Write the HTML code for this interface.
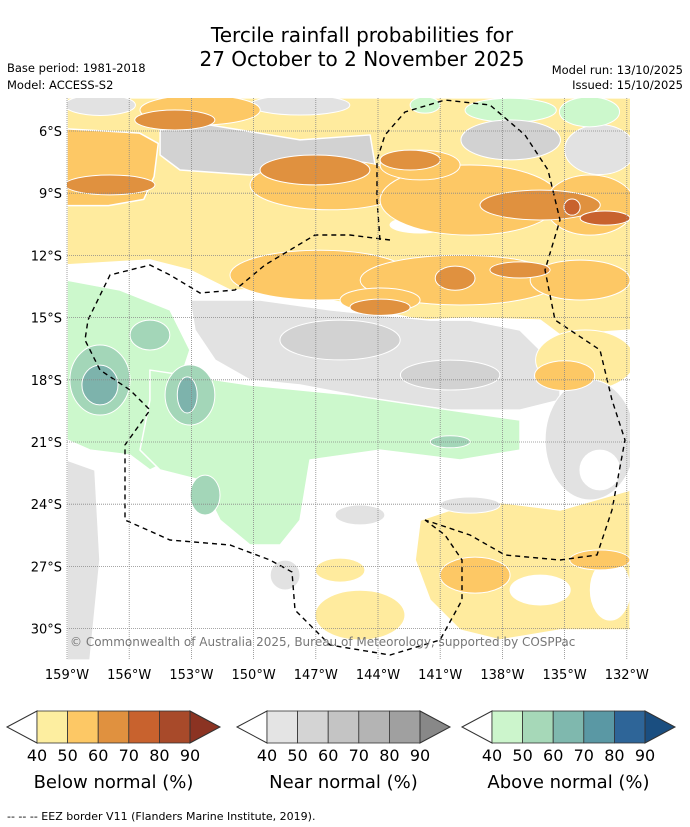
<!DOCTYPE html>
<html><head><meta charset="utf-8"><style>
body{margin:0;background:#fff;width:690px;height:827px;overflow:hidden;font-family:"DejaVu Sans","Liberation Sans",sans-serif}
svg{display:block}
</style></head><body>
<svg id="chart" width="690" height="827" xmlns="http://www.w3.org/2000/svg">
<text x="362" y="42" text-anchor="middle" font-size="20">Tercile rainfall probabilities for</text>
<text x="362" y="66" text-anchor="middle" font-size="20">27 October to 2 November 2025</text>
<text x="7" y="72" font-size="11.5">Base period: 1981-2018</text>
<text x="7" y="89" font-size="11.5">Model: ACCESS-S2</text>
<text x="683" y="74" font-size="11.5" text-anchor="end">Model run: 13/10/2025</text>
<text x="683" y="89" font-size="11.5" text-anchor="end">Issued: 15/10/2025</text>
<defs><clipPath id="mapclip"><rect x="67" y="98" width="563" height="562"/></clipPath></defs>
<g id="map" clip-path="url(#mapclip)"></g>
<g id="axes"></g>
<text x="70" y="646" font-size="12" fill="#777">© Commonwealth of Australia 2025, Bureau of Meteorology, supported by COSPPac</text>
<g id="bars"></g>
<text x="7" y="820" font-size="11">--  --  -- EEZ border V11 (Flanders Marine Institute, 2019).</text>
</svg>
<script>
const lonTicks=[159,156,153,150,147,144,141,138,135,132];
const latTicks=[6,9,12,15,18,21,24,27,30];
const cbTicks=[40,50,60,70,80,90];
const cbTitles=["Below normal (%)","Near normal (%)","Above normal (%)"];
const cbColors=[["#fdeea0","#fdc865","#e0913f","#c8622e","#a84a2a","#8b3322"],["#e4e4e4","#d4d4d4","#c4c4c4","#b4b4b4","#a0a0a0","#888888"],["#ccf5cc","#a6d8b8","#7fb8ae","#5a98a4","#2e6598","#1a4e80"]];
const catColor={w:"#ffffff",b1:"#ffeb9e",b2:"#fdc865",b3:"#e0913f",b4:"#c8622e",n1:"#e2e2e2",n2:"#d2d2d2",a1:"#ccf8cc",a2:"#a3d6b8",a3:"#7db3ac"};
const polys=[
["b1",[[159,4.4],[131.8,4.4],[131.8,15.6],[135.22,15.84],[136.18,15.12],[139.56,15.02],[141.97,15.12],[146.31,14.15],[149.69,13.67],[151.14,13.67],[153.07,12.71],[155.0,12.22],[159,12.46]]],
["b2",[[159,5.9],[155.5,6.1],[154.6,6.6],[154.8,8.2],[155.3,9.3],[157,9.6],[159,9.6]]],
["n2",[[154.51,5.95],[152.1,5.71],[147.76,6.43],[144.38,6.19],[144.14,7.64],[147.76,7.88],[150.17,8.12],[153.55,7.88],[154.51,7.16]]],
["n1",[[153.07,14.15],[149.69,14.15],[146.31,14.63],[141.49,15.12],[139.56,15.12],[137.15,15.6],[136.18,16.56],[135.22,18.01],[135.22,18.98],[137.15,19.46],[140.52,19.46],[143.9,18.98],[147.76,18.25],[150.17,18.01],[151.86,17.05],[152.83,15.6]]],
["a1",[[159,13.19],[156.44,13.67],[154.03,14.63],[153.07,16.56],[153.55,18.01],[154.51,19.94],[154.03,21.87],[155.0,22.35],[155.96,21.63],[157.89,21.39],[159,20.9]]],
["a1",[[155.0,17.53],[150.17,18.25],[145.35,18.73],[140.52,19.46],[137.15,19.94],[137.15,21.39],[140.04,21.87],[143.9,21.39],[147.28,21.87],[147.76,24.77],[148.72,25.97],[150.17,25.97],[151.62,24.77],[152.58,22.84],[154.51,22.35],[155.48,21.39],[155.0,18.98]]],
["b1",[[141.97,24.77],[139.08,23.8],[135.22,24.28],[131.84,23.32],[131.84,30.07],[135.22,30.07],[138.11,30.55],[140.04,30.07],[141.49,28.62],[142.21,26.69]]],
["n1",[[159,21.87],[157.65,22.35],[157.41,26.69],[157.89,31.52],[159,31.52]]]
];
const ells=[
["b1",134.0,17.05,2.4,1.45],["b2",135.0,17.8,1.45,0.72],
["n1",157.4,4.75,1.7,0.5],["n2",137.6,6.43,2.4,0.96],["n1",133.3,6.9,1.7,1.2],["a1",137.6,5.0,2.2,0.58],["a1",133.8,5.08,1.45,0.72],["a1",141.73,4.75,0.72,0.39],["n1",147.76,4.75,2.4,0.48],
["b2",152.58,4.99,2.9,0.72],["b2",146.31,8.6,3.86,1.2],["b2",139.56,9.33,4.34,1.69],["b2",133.77,9.57,2.17,1.45],["b2",141.97,7.64,1.93,0.72],
["b2",146.8,12.95,4.34,1.2],["b2",140.04,13.19,4.82,1.2],["b2",134.25,13.19,2.41,0.96],["b2",143.9,14.15,1.93,0.58],
["w",141.97,10.53,1.45,0.39],
["b3",153.8,5.47,1.93,0.48],["b3",156.93,8.6,2.17,0.48],["b3",147.04,7.88,2.65,0.72],["b3",142.45,7.4,1.45,0.48],["b3",136.18,9.57,2.9,0.72],["b3",140.28,13.1,0.96,0.58],["b3",137.15,12.7,1.45,0.39],["b3",143.9,14.5,1.45,0.39],
["b4",134.64,9.67,0.39,0.39],["b4",133.05,10.2,1.2,0.34],
["n2",145.83,16.08,2.9,0.96],["n2",140.52,17.77,2.4,0.72],
["n1",133.77,20.9,2.17,2.9],["w",133.3,22.35,0.96,0.96],
["a2",157.41,18.01,1.45,1.69],["a2",153.07,18.73,1.2,1.45],["a2",155.0,15.84,0.96,0.72],["a2",152.34,23.56,0.72,0.96],["a2",140.52,20.99,0.96,0.29],
["a3",157.41,18.25,0.87,0.96],["a3",153.2,18.73,0.48,0.87],
["w",136.18,28.14,1.45,0.72],["w",132.8,28.14,0.96,1.45],
["b2",139.32,27.42,1.69,0.87],["b2",133.3,26.69,1.45,0.48],
["b1",144.87,29.35,2.17,1.2],["b1",145.83,27.18,1.2,0.58],
["n1",148.48,27.42,0.72,0.72],["n1",144.87,24.52,1.2,0.48],["n1",139.56,24.04,1.45,0.39]
];
const NS="http://www.w3.org/2000/svg";
const PX=62.2/3;
function xs(lon){return 67+(159-lon)*PX;}
function ys(lat){return 131+(lat-6)*PX;}
function mk(tag,attrs,parent){const e=document.createElementNS(NS,tag);for(const k in attrs)e.setAttribute(k,attrs[k]);parent.appendChild(e);return e;}
const map=document.getElementById('map');
mk('rect',{x:67,y:98,width:563,height:562,fill:'#fff'},map);
const drawOrder=[];
polys.forEach(p=>drawOrder.push({t:'p',d:p}));
ells.forEach(e=>drawOrder.push({t:'e',d:e}));
const rank={b1:1,n1:1,a1:1,w:2,b2:3,n2:3,a2:3,b3:4,a3:4,b4:5};
drawOrder.sort((a,b)=>rank[a.d[0]]-rank[b.d[0]]);
drawOrder.forEach(o=>{
  let el;
  if(o.t==='p'){
    el=mk('polygon',{points:o.d[1].map(q=>xs(q[0])+','+ys(q[1])).join(' '),fill:catColor[o.d[0]],stroke:'#fff','stroke-width':1.5,'stroke-linejoin':'round'},map);
    
  }else{
    const d=o.d;
    el=mk('ellipse',{cx:xs(d[1]),cy:ys(d[2]),rx:d[3]*PX,ry:d[4]*PX,fill:catColor[d[0]],stroke:'#fff','stroke-width':1},map);
    
  }
  
});
const eez=["M380,240 L377,200 L377,160 L385,135 L405,112 L445,100 L490,105 L525,135 L548,170 L560,220 L545,270 L555,320 L600,350 L612,400 L625,440 L612,510 L597,555 L560,560 L505,555 L470,535 L425,520",
"M390,240 L350,235 L315,235 L290,250 L265,265 L235,290 L200,293 L170,275 L150,265 L110,275 L88,320 L85,340 L100,370 L130,390 L150,410 L125,445 L125,520 L170,540 L230,545 L270,560 L292,572 L295,610 L330,645 L390,655 L440,640 L462,600 L462,560 L445,535 L425,520"];
eez.forEach(d=>{const e=mk('path',{d:d,fill:'none',stroke:'#000','stroke-width':1.4,'stroke-dasharray':'5,4'},map);

});
const axes=document.getElementById('axes');
lonTicks.forEach(l=>{
  const x=xs(l);
  const g=mk('line',{x1:x,y1:98,x2:x,y2:660,stroke:'#888','stroke-width':0.8,'stroke-dasharray':'1,1'},axes);
  
  
  const t=mk('text',{x:x,y:679,'text-anchor':'middle','font-size':13},axes);t.textContent=l+'°W';
  
  
});
latTicks.forEach(l=>{
  const y=ys(l);
  const g=mk('line',{x1:67,y1:y,x2:630,y2:y,stroke:'#888','stroke-width':0.8,'stroke-dasharray':'1,1'},axes);
  
  
  const t=mk('text',{x:62,y:y+5,'text-anchor':'end','font-size':13},axes);t.textContent=l+'°S';
  
  
});
const bars=document.getElementById('bars');
const starts=[7,237,462];
starts.forEach((s,i)=>{
  const x0=s+30,w=30.6,y0=711,h=32;
  const lt=mk('polygon',{points:`${s},${y0+h/2} ${x0},${y0} ${x0},${y0+h}`,fill:'#fff',stroke:'#333','stroke-width':1},bars);
  
  
  for(let k=0;k<5;k++){
    const r=mk('rect',{x:x0+k*w,y:y0,width:w,height:h,fill:cbColors[i][k],stroke:'#333','stroke-width':0.8},bars);
    
    
  }
  const xe=x0+5*w;
  const rt=mk('polygon',{points:`${xe},${y0} ${xe+30},${y0+h/2} ${xe},${y0+h}`,fill:cbColors[i][5],stroke:'#333','stroke-width':1},bars);
  
  
  cbTicks.forEach((v,k)=>{
    const t=mk('text',{x:x0+k*w,y:761,'text-anchor':'middle','font-size':16},bars);t.textContent=v;
    
    
  });
  const tt=mk('text',{x:x0+2.5*w,y:788,'text-anchor':'middle','font-size':18},bars);tt.textContent=cbTitles[i];
  
  
});
</script>
</body></html>
